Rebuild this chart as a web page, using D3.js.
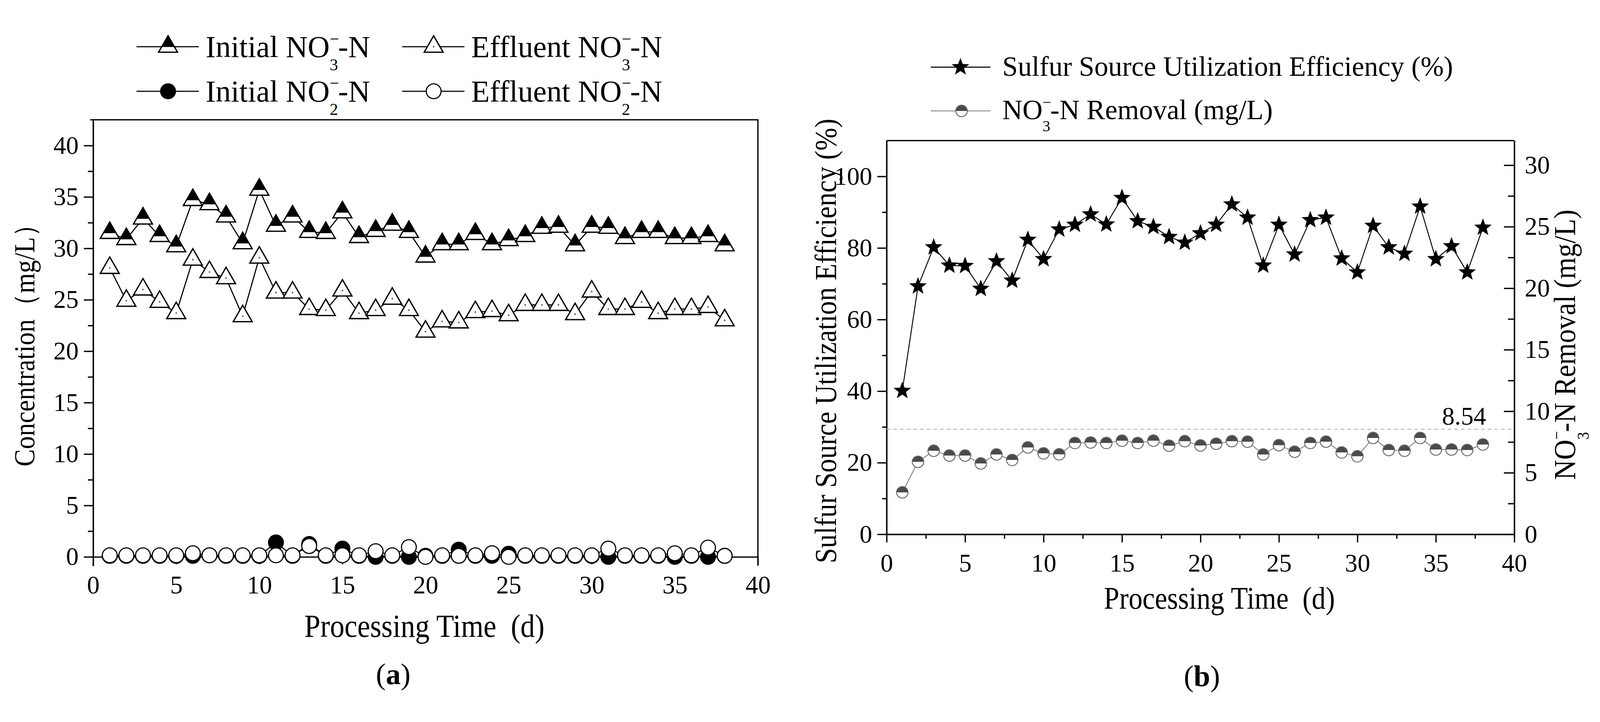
<!DOCTYPE html>
<html>
<head>
<meta charset="utf-8">
<script src="https://cdn.jsdelivr.net/npm/d3@7"></script>
<style>
  html, body { margin: 0; padding: 0; background: #fff; overflow: hidden; }
  #chart { display: block; width: 100vw; height: 100vh; }
  svg text { font-family: "Liberation Serif", "Times New Roman", serif; fill: #000; }
  .tick text { font-size: 68px; }
</style>
</head>
<body>
<svg id="chart"></svg>
<script>
// data
const days = [1, 2, 3, 4, 5, 6, 7, 8, 9, 10, 11, 12, 13, 14, 15, 16, 17, 18, 19, 20,
  21, 22, 23, 24, 25, 26, 27, 28, 29, 30, 31, 32, 33, 34, 35, 36, 37, 38];

const initialNO3 = [31.5, 30.9, 32.9, 31.2, 30.2, 34.7, 34.3, 33.1, 30.5, 35.7, 32.2, 33.1, 31.6, 31.5, 33.5, 31.1, 31.7, 32.3, 31.6, 29.2,
  30.4, 30.4, 31.4, 30.4, 30.8, 31.2, 32.0, 32.1, 30.3, 32.1, 32.0, 31.0, 31.6, 31.6, 31.0, 31.0, 31.2, 30.3];
const effluentNO3 = [28.1, 24.9, 26.0, 24.8, 23.7, 28.9, 27.7, 27.1, 23.4, 29.1, 25.7, 25.7, 24.1, 24.0, 25.9, 23.7, 24.0, 25.1, 24.0, 21.9,
  22.9, 22.8, 23.8, 23.9, 23.5, 24.5, 24.5, 24.5, 23.6, 25.8, 24.1, 24.1, 24.8, 23.7, 24.1, 24.1, 24.3, 23.0];
const initialNO2 = [0.1, 0.1, 0.1, 0.1, 0.1, 0.1, 0.15, 0.1, 0.1, 0.1, 1.4, 0.1, 1.25, 0.1, 0.8, 0.1, 0, 0.1, 0, 0.1,
  0.1, 0.7, 0.1, 0.1, 0.3, 0.1, 0.1, 0.1, 0.1, 0.1, 0, 0.1, 0.1, 0.1, 0, 0.1, 0, 0.1];
const effluentNO2 = [0.15, 0.15, 0.15, 0.15, 0.15, 0.35, 0.15, 0.15, 0.15, 0.15, 0.15, 0.15, 1.05, 0.15, 0.15, 0.15, 0.55, 0.15, 0.95, 0.0,
  0.15, 0.1, 0.15, 0.35, 0.0, 0.15, 0.15, 0.15, 0.15, 0.15, 0.8, 0.15, 0.15, 0.15, 0.35, 0.15, 0.9, 0.1];

const sulfurEff = [40.1, 69.3, 80.2, 75.1, 75.0, 68.6, 76.3, 70.9, 82.3, 76.9, 85.2, 86.5, 89.4, 86.6, 94.0, 87.5, 85.9, 83.1, 81.5, 84.1,
  86.5, 92.2, 88.5, 75.1, 86.5, 78.2, 87.8, 88.5, 77.1, 73.2, 86.2, 80.2, 78.4, 91.6, 76.9, 80.5, 73.2, 85.7];
const no3Removal = [3.41, 5.89, 6.79, 6.40, 6.40, 5.76, 6.49, 6.04, 7.06, 6.58, 6.50, 7.42, 7.46, 7.42, 7.61, 7.42, 7.61, 7.20, 7.57, 7.22,
  7.36, 7.57, 7.53, 6.49, 7.24, 6.71, 7.42, 7.53, 6.65, 6.34, 7.83, 6.85, 6.79, 7.83, 6.89, 6.89, 6.85, 7.30];
const removalRef = 8.54;

const xTicks = [0, 5, 10, 15, 20, 25, 30, 35, 40];
const xMinor = [2.5, 7.5, 12.5, 17.5, 22.5, 27.5, 32.5, 37.5];
const concTicks = [0, 5, 10, 15, 20, 25, 30, 35, 40];
const concMinor = [2.5, 7.5, 12.5, 17.5, 22.5, 27.5, 32.5, 37.5];
const effTicks = [0, 20, 40, 60, 80, 100];
const effMinor = [10, 30, 50, 70, 90];
const remTicks = [0, 5, 10, 15, 20, 25, 30];
const remMinor = [2.5, 7.5, 12.5, 17.5, 22.5, 27.5];

const W = 4313, H = 1848;
const svg = d3.select("#chart").attr("viewBox", `0 0 ${W} ${H}`);
svg.append("rect").attr("width", W).attr("height", H).attr("fill", "#fff");

// ---------- marker shapes ----------
const SQ3 = Math.sqrt(3);
// black upper part of the half-filled triangle
const triTop = {
  draw(ctx, size) {
    const y = -Math.sqrt(size / (SQ3 * 3));
    const f = 0.68;
    const apex = 2 * y, cut = apex + f * (-3 * y), hw = f * SQ3 * (-y);
    ctx.moveTo(0, apex);
    ctx.lineTo(hw, cut);
    ctx.lineTo(-hw, cut);
    ctx.closePath();
  }
};
const star = {
  draw(ctx, size) {
    const R = Math.sqrt(size), r = R * 0.42;
    for (let i = 0; i < 10; i++) {
      const a = -Math.PI / 2 + i * Math.PI / 5, rad = i % 2 ? r : R;
      if (i) ctx.lineTo(rad * Math.cos(a), rad * Math.sin(a));
      else ctx.moveTo(rad * Math.cos(a), rad * Math.sin(a));
    }
    ctx.closePath();
  }
};
const TRI = 1130, STAR = 620, RC = 20, RH = 15.5;
const triPath = d3.symbol().type(d3.symbolTriangle).size(TRI)();
const triTopPath = d3.symbol().type(triTop).size(TRI)();
const starPath = d3.symbol().type(star).size(STAR)();
const halfTop = d3.arc().innerRadius(0).outerRadius(RH).startAngle(-Math.PI / 2).endAngle(Math.PI / 2)();

function halfTri(g) {
  g.append("path").attr("d", triPath).attr("fill", "#fff").attr("stroke", "#000").attr("stroke-width", 3.5);
  g.append("path").attr("d", triTopPath).attr("fill", "#000");
}
function openTri(g) {
  g.append("path").attr("d", triPath).attr("fill", "#fff").attr("stroke", "#000").attr("stroke-width", 3.5);
  g.append("circle").attr("r", 2.2).attr("fill", "#555");
}
function halfCircle(g) {
  g.append("circle").attr("r", RH).attr("fill", "#fff");
  g.append("path").attr("d", halfTop).attr("fill", "#4a4a4a");
  g.append("circle").attr("r", RH).attr("fill", "none").attr("stroke", "#666").attr("stroke-width", 2.5);
}

// NO3- / NO2- style label with stacked charge and subscript
function chem(text, F, pre, sub, post) {
  text.append("tspan").text(pre + "NO");
  text.append("tspan").attr("font-size", 0.55 * F).attr("dy", -0.42 * F).text("\u2212");
  text.append("tspan").attr("font-size", 0.55 * F).attr("dx", -0.31 * F).attr("dy", 0.86 * F).text(sub);
  text.append("tspan").attr("dy", -0.44 * F).text(post);
}

function styleAxis(g) {
  g.attr("font-family", null).attr("font-size", null);
  g.select(".domain").attr("stroke-width", 3.5).attr("stroke", "#000");
  g.selectAll(".tick line").attr("stroke-width", 3.5).attr("stroke", "#000");
}

// ================= panel (a) =================
const xA = d3.scaleLinear().domain([0, 40]).range([251, 2043]);
const yA = d3.scaleLinear().domain([-0.87, 42.5]).range([1476, 274]);

const a = svg.append("g");

a.append("g").attr("transform", `translate(${xA(0)},0)`)
  .call(d3.axisLeft(yA).tickValues(concMinor).tickSize(14).tickFormat("").tickSizeOuter(0))
  .call(styleAxis);
a.append("g").attr("transform", `translate(${xA(0)},0)`)
  .call(d3.axisLeft(yA).tickValues(concTicks).tickSize(25).tickPadding(14).tickSizeOuter(0))
  .call(styleAxis);
a.append("g").attr("transform", `translate(0,${yA(0)})`)
  .call(d3.axisBottom(xA).tickValues(xTicks).tickSize(20).tickPadding(30).tickSizeOuter(0))
  .call(styleAxis);
// frame
a.append("path")
  .attr("d", `M${xA(0) - 8},${yA.range()[1]}H${xA(40)}V${yA.range()[0]}`)
  .attr("fill", "none").attr("stroke", "#000").attr("stroke-width", 3.5);

const lineA = vals => d3.line().x((d, i) => xA(days[i])).y(d => yA(d))(vals);

a.append("path").attr("d", lineA(initialNO3)).attr("fill", "none").attr("stroke", "#000").attr("stroke-width", 3);
a.append("path").attr("d", lineA(effluentNO3)).attr("fill", "none").attr("stroke", "#000").attr("stroke-width", 3);
a.append("path").attr("d", lineA(initialNO2)).attr("fill", "none").attr("stroke", "#000").attr("stroke-width", 3);
a.append("path").attr("d", lineA(effluentNO2)).attr("fill", "none").attr("stroke", "#000").attr("stroke-width", 3);

a.append("g").selectAll("g").data(initialNO3).join("g")
  .attr("transform", (d, i) => `translate(${xA(days[i])},${yA(d)})`)
  .each(function () { halfTri(d3.select(this)); });
a.append("g").selectAll("g").data(effluentNO3).join("g")
  .attr("transform", (d, i) => `translate(${xA(days[i])},${yA(d)})`)
  .each(function () { openTri(d3.select(this)); });
a.append("g").selectAll("circle").data(initialNO2).join("circle")
  .attr("cx", (d, i) => xA(days[i])).attr("cy", d => yA(d)).attr("r", RC)
  .attr("fill", "#000").attr("stroke", "#000").attr("stroke-width", 3);
a.append("g").selectAll("circle").data(effluentNO2).join("circle")
  .attr("cx", (d, i) => xA(days[i])).attr("cy", d => yA(d)).attr("r", RC)
  .attr("fill", "#fff").attr("stroke", "#000").attr("stroke-width", 3);

// axis titles
a.append("text").attr("transform", "translate(93,864) rotate(-90) scale(1,1.1)")
  .attr("text-anchor", "middle").attr("font-size", 70).text("Concentration（mg/L）");
a.append("text").attr("transform", "translate(1144,1667) scale(1,1.12)")
  .attr("text-anchor", "middle").attr("font-size", 78).text("Processing Time\u00a0 (d)");

// legend (a)
const legA = [
  { x: 368, y: 77, sub: "3", name: "Initial ", mark: halfTri },
  { x: 1084, y: 77, sub: "3", name: "Effluent ", mark: openTri },
  { x: 368, y: 197, sub: "2", name: "Initial ", mark: g => g.append("circle").attr("r", RC).attr("fill", "#000").attr("stroke", "#000").attr("stroke-width", 3) },
  { x: 1084, y: 197, sub: "2", name: "Effluent ", mark: g => g.append("circle").attr("r", RC).attr("fill", "#fff").attr("stroke", "#000").attr("stroke-width", 3) }
];
legA.forEach(l => {
  const g = a.append("g").attr("transform", `translate(${l.x},${l.y})`);
  g.append("line").attr("x1", 0).attr("x2", 168).attr("stroke", "#000").attr("stroke-width", 3);
  l.mark(g.append("g").attr("transform", "translate(85,0)"));
  chem(g.append("text").attr("x", 186).attr("y", 28).attr("font-size", 82), 82, l.name, l.sub, "-N");
});

a.append("text").attr("x", 1060).attr("y", 1795).attr("text-anchor", "middle").attr("font-size", 80)
  .call(t => { t.append("tspan").text("("); t.append("tspan").attr("font-weight", "bold").text("a"); t.append("tspan").text(")"); });

// ================= panel (b) =================
const xB = d3.scaleLinear().domain([0, 40]).range([2390, 4082]);
const yL = d3.scaleLinear().domain([0, 110]).range([1391, 330]);
const yR = d3.scaleLinear().domain([0, 32]).range([1391, 330]);

const b = svg.append("g");

b.append("g").attr("transform", `translate(${xB(0)},0)`)
  .call(d3.axisLeft(yL).tickValues(effMinor).tickSize(12).tickFormat("").tickSizeOuter(0))
  .call(styleAxis);
b.append("g").attr("transform", `translate(${xB(0)},0)`)
  .call(d3.axisLeft(yL).tickValues(effTicks).tickSize(25).tickPadding(14).tickSizeOuter(0))
  .call(styleAxis);
b.append("g").attr("transform", `translate(${xB(40)},0)`)
  .call(d3.axisRight(yR).tickValues(remMinor).tickSize(-17).tickFormat("").tickSizeOuter(0))
  .call(styleAxis);
b.append("g").attr("transform", `translate(${xB(40)},0)`)
  .call(d3.axisRight(yR).tickValues(remTicks).tickSize(-28).tickPadding(28).tickSizeOuter(0))
  .call(styleAxis);
b.append("g").attr("transform", `translate(0,${yL(0)})`)
  .call(d3.axisBottom(xB).tickValues(xMinor).tickSize(12).tickFormat("").tickSizeOuter(0))
  .call(styleAxis);
b.append("g").attr("transform", `translate(0,${yL(0)})`)
  .call(d3.axisBottom(xB).tickValues(xTicks).tickSize(22).tickPadding(30).tickSizeOuter(0))
  .call(styleAxis);
b.append("line").attr("x1", xB(0)).attr("x2", xB(40)).attr("y1", yL(110)).attr("y2", yL(110))
  .attr("stroke", "#000").attr("stroke-width", 3.5);

// 8.54 reference line
b.append("line").attr("x1", xB(0)).attr("x2", xB(40)).attr("y1", yR(removalRef)).attr("y2", yR(removalRef))
  .attr("stroke", "#b4b4b4").attr("stroke-width", 2.5).attr("stroke-dasharray", "10,8");
b.append("text").attr("x", 4006).attr("y", yR(removalRef) - 12).attr("text-anchor", "end")
  .attr("font-size", 68).text(removalRef.toFixed(2));

b.append("path").attr("d", d3.line().x((d, i) => xB(days[i])).y(d => yR(d))(no3Removal))
  .attr("fill", "none").attr("stroke", "#888").attr("stroke-width", 2.5);
b.append("g").selectAll("g").data(no3Removal).join("g")
  .attr("transform", (d, i) => `translate(${xB(days[i])},${yR(d)})`)
  .each(function () { halfCircle(d3.select(this)); });

b.append("path").attr("d", d3.line().x((d, i) => xB(days[i])).y(d => yL(d))(sulfurEff))
  .attr("fill", "none").attr("stroke", "#000").attr("stroke-width", 2.5);
b.append("g").selectAll("path").data(sulfurEff).join("path")
  .attr("transform", (d, i) => `translate(${xB(days[i])},${yL(d)})`)
  .attr("d", starPath).attr("fill", "#000");

// axis titles
b.append("text").attr("transform", "translate(2253,870) rotate(-90) scale(1,1.1)")
  .attr("text-anchor", "middle").attr("font-size", 74).text("Sulfur Source Utilization Efficiency (%)");
chem(b.append("text").attr("transform", "translate(4246,880) rotate(-90) scale(1,1.1)")
  .attr("text-anchor", "middle").attr("font-size", 75), 75, "", "3", "-N Removal (mg/L)");
b.append("text").attr("transform", "translate(3287,1592) scale(1,1.12)")
  .attr("text-anchor", "middle").attr("font-size", 75).text("Processing Time\u00a0 (d)");

// legend (b)
const legB = b.append("g");
const r1 = legB.append("g").attr("transform", "translate(2509,132)");
r1.append("line").attr("x2", 161).attr("stroke", "#000").attr("stroke-width", 3);
r1.append("path").attr("d", starPath).attr("transform", "translate(80,0)").attr("fill", "#000");
r1.append("text").attr("x", 193).attr("y", 23).attr("font-size", 75).text("Sulfur Source Utilization Efficiency (%)");
const r2 = legB.append("g").attr("transform", "translate(2509,250)");
r2.append("line").attr("x2", 161).attr("stroke", "#888").attr("stroke-width", 2.5);
halfCircle(r2.append("g").attr("transform", "translate(83,0)"));
chem(r2.append("text").attr("x", 193).attr("y", 22).attr("font-size", 75), 75, "", "3", "-N Removal (mg/L)");

b.append("text").attr("x", 3240).attr("y", 1800).attr("text-anchor", "middle").attr("font-size", 80)
  .call(t => { t.append("tspan").text("("); t.append("tspan").attr("font-weight", "bold").text("b"); t.append("tspan").text(")"); });
</script>
</body>
</html>
